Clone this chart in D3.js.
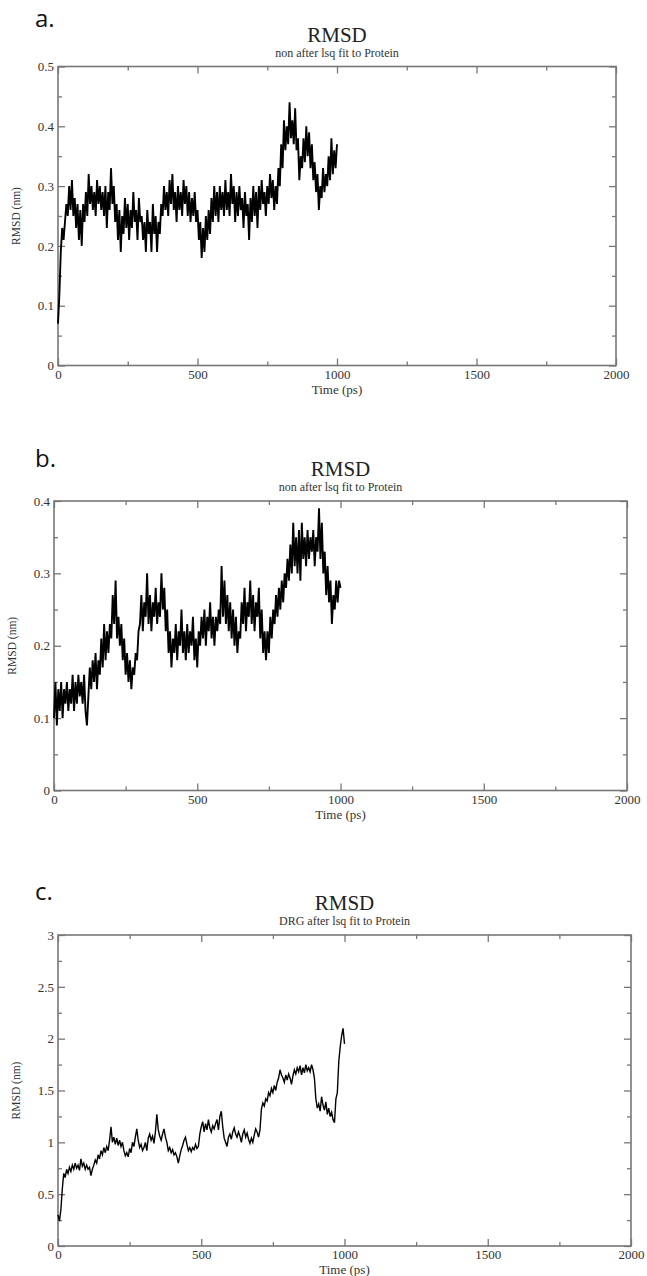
<!DOCTYPE html>
<html>
<head>
<meta charset="utf-8">
<script src="https://cdn.jsdelivr.net/npm/d3@7"></script>
<style>
  body { margin: 0; background: #fff; }
  svg { display: block; }
</style>
</head>
<body>
<script>
// RMSD traces, one value every 5 ps from 0 to 1000 ps
const timeStep = 5;

const rmsdA = [
  0.07, 0.12, 0.19, 0.23, 0.21, 0.24, 0.27, 0.25, 0.30, 0.26, 0.31, 0.25, 0.28, 0.23, 0.27, 0.21, 0.26, 0.20, 0.27, 0.24,
  0.29, 0.25, 0.32, 0.27, 0.30, 0.26, 0.29, 0.25, 0.31, 0.27, 0.30, 0.26, 0.29, 0.25, 0.30, 0.23, 0.29, 0.26, 0.33, 0.27,
  0.30, 0.24, 0.27, 0.21, 0.26, 0.19, 0.25, 0.22, 0.28, 0.23, 0.27, 0.21, 0.26, 0.23, 0.29, 0.24, 0.26, 0.21, 0.28, 0.24,
  0.25, 0.21, 0.24, 0.19, 0.26, 0.22, 0.24, 0.19, 0.27, 0.22, 0.25, 0.19, 0.24, 0.22, 0.27, 0.25, 0.30, 0.26, 0.29, 0.25,
  0.31, 0.27, 0.32, 0.26, 0.29, 0.24, 0.30, 0.26, 0.29, 0.25, 0.31, 0.27, 0.30, 0.25, 0.29, 0.24, 0.28, 0.25, 0.29, 0.24,
  0.26, 0.21, 0.24, 0.18, 0.23, 0.19, 0.25, 0.21, 0.26, 0.22, 0.28, 0.24, 0.30, 0.25, 0.29, 0.24, 0.30, 0.26, 0.29, 0.25,
  0.31, 0.26, 0.29, 0.25, 0.32, 0.27, 0.30, 0.24, 0.29, 0.25, 0.30, 0.26, 0.28, 0.23, 0.29, 0.25, 0.27, 0.21, 0.28, 0.24,
  0.30, 0.25, 0.29, 0.23, 0.30, 0.26, 0.31, 0.27, 0.29, 0.25, 0.30, 0.27, 0.32, 0.28, 0.31, 0.26, 0.30, 0.27, 0.33, 0.30,
  0.37, 0.33, 0.41, 0.36, 0.40, 0.37, 0.44, 0.38, 0.41, 0.37, 0.43, 0.36, 0.38, 0.31, 0.35, 0.33, 0.38, 0.34, 0.40, 0.35,
  0.39, 0.33, 0.37, 0.31, 0.34, 0.29, 0.32, 0.26, 0.30, 0.28, 0.33, 0.29, 0.32, 0.30, 0.35, 0.31, 0.38, 0.32, 0.36, 0.33,
  0.37
];

const rmsdB = [
  0.10, 0.15, 0.09, 0.14, 0.11, 0.15, 0.10, 0.14, 0.12, 0.15, 0.11, 0.14, 0.12, 0.16, 0.11, 0.15, 0.12, 0.16, 0.13, 0.15,
  0.12, 0.16, 0.11, 0.09, 0.13, 0.17, 0.14, 0.18, 0.15, 0.19, 0.14, 0.18, 0.16, 0.21, 0.17, 0.23, 0.18, 0.22, 0.19, 0.23,
  0.21, 0.27, 0.23, 0.29, 0.21, 0.24, 0.20, 0.23, 0.18, 0.21, 0.16, 0.19, 0.15, 0.18, 0.14, 0.17, 0.16, 0.19, 0.18, 0.22,
  0.23, 0.27, 0.22, 0.26, 0.24, 0.30, 0.23, 0.27, 0.22, 0.26, 0.24, 0.28, 0.23, 0.26, 0.24, 0.30, 0.25, 0.28, 0.22, 0.25,
  0.19, 0.22, 0.17, 0.21, 0.19, 0.23, 0.18, 0.22, 0.20, 0.25, 0.19, 0.22, 0.18, 0.23, 0.19, 0.22, 0.20, 0.24, 0.18, 0.21,
  0.17, 0.22, 0.20, 0.24, 0.21, 0.25, 0.20, 0.24, 0.22, 0.26, 0.21, 0.24, 0.20, 0.24, 0.22, 0.25, 0.23, 0.31, 0.24, 0.29,
  0.23, 0.27, 0.22, 0.26, 0.21, 0.25, 0.20, 0.24, 0.19, 0.22, 0.21, 0.26, 0.23, 0.28, 0.22, 0.26, 0.24, 0.29, 0.23, 0.27,
  0.22, 0.26, 0.24, 0.28, 0.21, 0.25, 0.19, 0.22, 0.18, 0.22, 0.19, 0.24, 0.21, 0.25, 0.23, 0.27, 0.24, 0.28, 0.25, 0.29,
  0.26, 0.30, 0.28, 0.32, 0.29, 0.34, 0.30, 0.37, 0.31, 0.35, 0.30, 0.36, 0.29, 0.37, 0.32, 0.35, 0.31, 0.36, 0.32, 0.35,
  0.33, 0.36, 0.31, 0.35, 0.33, 0.39, 0.32, 0.37, 0.30, 0.33, 0.27, 0.31, 0.26, 0.29, 0.23, 0.27, 0.25, 0.29, 0.26, 0.29,
  0.28
];

const rmsdC = [
  0.30, 0.24, 0.35, 0.55, 0.70, 0.66, 0.74, 0.70, 0.76, 0.72, 0.78, 0.74, 0.80, 0.75, 0.78, 0.73, 0.84, 0.77, 0.80, 0.74,
  0.78, 0.74, 0.76, 0.68, 0.74, 0.78, 0.83, 0.80, 0.88, 0.84, 0.92, 0.88, 0.95, 0.90, 0.96, 0.92, 1.02, 1.15, 1.00, 1.05,
  0.98, 1.04, 0.97, 1.02, 0.96, 1.00, 0.92, 0.87, 0.90, 0.86, 0.94, 0.90, 1.00, 0.96, 1.05, 1.13, 1.02, 0.95, 0.98, 0.92,
  0.95, 1.00, 0.92, 1.04, 1.08, 1.02, 1.06, 0.99, 1.10, 1.27, 1.12, 1.06, 1.02, 1.08, 1.13, 1.05, 1.00, 0.92, 0.95, 0.90,
  0.93, 0.88, 0.90, 0.86, 0.80, 0.87, 0.93, 0.97, 1.02, 1.05, 0.98, 0.92, 0.95, 0.91, 0.95, 0.93, 0.98, 0.94, 0.96, 1.08,
  1.15, 1.20, 1.10, 1.18, 1.12, 1.22, 1.14, 1.10, 1.16, 1.13, 1.18, 1.22, 1.12, 1.25, 1.30, 1.15, 1.04, 1.00, 0.96, 1.05,
  1.08, 1.03, 1.10, 1.14, 1.08, 1.05, 1.10, 1.06, 1.00, 1.08, 1.12, 1.05, 1.09, 1.03, 0.99, 1.04, 1.00, 1.07, 1.13, 1.10,
  1.05, 1.12, 1.32, 1.38, 1.35, 1.42, 1.40, 1.48, 1.45, 1.52, 1.48, 1.55, 1.50, 1.58, 1.62, 1.70, 1.65, 1.62, 1.58, 1.65,
  1.60, 1.66, 1.62, 1.56, 1.64, 1.70, 1.66, 1.72, 1.68, 1.74, 1.65, 1.72, 1.67, 1.75, 1.69, 1.72, 1.68, 1.75, 1.70, 1.62,
  1.42, 1.33, 1.37, 1.30, 1.44, 1.36, 1.31, 1.39, 1.27, 1.33, 1.25, 1.29, 1.22, 1.19, 1.42, 1.48, 1.78, 1.92, 2.03, 2.10,
  1.95
];

const xTicks = [0, 500, 1000, 1500, 2000];
const xMinor = [250, 750, 1250, 1750];
const yTicksA = [0, 0.1, 0.2, 0.3, 0.4, 0.5];
const yTicksB = [0, 0.1, 0.2, 0.3, 0.4];
const yTicksC = [0, 0.5, 1, 1.5, 2, 2.5, 3];

const width = 647, height = 1276;
const serif = '"Liberation Serif", "Times New Roman", serif';

const svg = d3.select('body').append('svg')
  .attr('width', width).attr('height', height);

function panel(cfg) {
  const x = d3.scaleLinear().domain([0, 2000]).range([cfg.left, cfg.right]);
  const y = d3.scaleLinear().domain([0, cfg.yMax]).range([cfg.bottom, cfg.top]);
  const g = svg.append('g');
  const yMinor = d3.range(cfg.minorStep, cfg.yMax, cfg.minorStep * 2);

  // minor ticks, all four sides, pointing in
  g.append('g').attr('transform', `translate(0,${cfg.bottom})`)
    .call(d3.axisBottom(x).tickValues(xMinor).tickSize(-4).tickFormat(''));
  g.append('g').attr('transform', `translate(0,${cfg.top})`)
    .call(d3.axisTop(x).tickValues(xMinor).tickSize(-4).tickFormat(''));
  g.append('g').attr('transform', `translate(${cfg.left},0)`)
    .call(d3.axisLeft(y).tickValues(yMinor).tickSize(-4).tickFormat(''));
  g.append('g').attr('transform', `translate(${cfg.right},0)`)
    .call(d3.axisRight(y).tickValues(yMinor).tickSize(-4).tickFormat(''));

  // major ticks with labels on bottom and left
  g.append('g').attr('class', 'lab').attr('transform', `translate(0,${cfg.bottom})`)
    .call(d3.axisBottom(x).tickValues(xTicks).tickSize(-7).tickPadding(4).tickFormat(d3.format('d')));
  g.append('g').attr('transform', `translate(0,${cfg.top})`)
    .call(d3.axisTop(x).tickValues(xTicks).tickSize(-7).tickFormat(''));
  g.append('g').attr('class', 'lab').attr('transform', `translate(${cfg.left},0)`)
    .call(d3.axisLeft(y).tickValues(cfg.yTicks).tickSize(-7).tickPadding(4).tickFormat(d => String(+d.toFixed(2))));
  g.append('g').attr('transform', `translate(${cfg.right},0)`)
    .call(d3.axisRight(y).tickValues(cfg.yTicks).tickSize(-7).tickFormat(''));

  g.selectAll('.domain').remove();
  g.selectAll('.tick line').attr('stroke', '#777').attr('stroke-width', 1.3);
  g.selectAll('.lab text').attr('font-family', serif).attr('font-size', 13).attr('fill', '#333');

  // frame
  g.append('rect')
    .attr('x', cfg.left).attr('y', cfg.top)
    .attr('width', cfg.right - cfg.left).attr('height', cfg.bottom - cfg.top)
    .attr('fill', 'none').attr('stroke', '#777').attr('stroke-width', 1.6);

  // trace
  const line = d3.line().x((d, i) => x(i * timeStep)).y(d => y(d));
  g.append('path').datum(cfg.data)
    .attr('d', line)
    .attr('fill', 'none').attr('stroke', '#000')
    .attr('stroke-width', cfg.lineWidth).attr('stroke-linejoin', 'miter');

  // texts
  const cx = (cfg.left + cfg.right) / 2;
  g.append('text').attr('x', 35).attr('y', cfg.tagY)
    .attr('font-family', '"Open Sans", "Noto Sans", sans-serif').attr('font-size', 24)
    .attr('fill', '#111').text(cfg.tag);
  g.append('text').attr('x', cx).attr('y', cfg.top - 25).attr('text-anchor', 'middle')
    .attr('font-family', serif).attr('font-size', 21).attr('fill', '#222').text('RMSD');
  g.append('text').attr('x', cx).attr('y', cfg.top - 10).attr('text-anchor', 'middle')
    .attr('font-family', serif).attr('font-size', 12).attr('fill', '#333').text(cfg.subtitle);
  g.append('text').attr('x', cx).attr('y', cfg.bottom + 28).attr('text-anchor', 'middle')
    .attr('font-family', serif).attr('font-size', 13).attr('fill', '#333').text('Time (ps)');
  g.append('text')
    .attr('transform', `translate(${cfg.left - 38},${(cfg.top + cfg.bottom) / 2}) rotate(-90)`)
    .attr('text-anchor', 'middle')
    .attr('font-family', serif).attr('font-size', 11.5).attr('fill', '#333').text('RMSD (nm)');
}

panel({tag: 'a.', tagY: 27, subtitle: 'non after lsq fit to Protein',
  left: 58, right: 616, top: 66.5, bottom: 365.5,
  yMax: 0.5, yTicks: yTicksA, minorStep: 0.05, data: rmsdA, lineWidth: 1.9});
panel({tag: 'b.', tagY: 467, subtitle: 'non after lsq fit to Protein',
  left: 54, right: 627, top: 501, bottom: 790.5,
  yMax: 0.4, yTicks: yTicksB, minorStep: 0.05, data: rmsdB, lineWidth: 1.9});
panel({tag: 'c.', tagY: 900, subtitle: 'DRG after lsq fit to Protein',
  left: 58, right: 631, top: 935, bottom: 1246,
  yMax: 3, yTicks: yTicksC, minorStep: 0.25, data: rmsdC, lineWidth: 1.4});
</script>
</body>
</html>
